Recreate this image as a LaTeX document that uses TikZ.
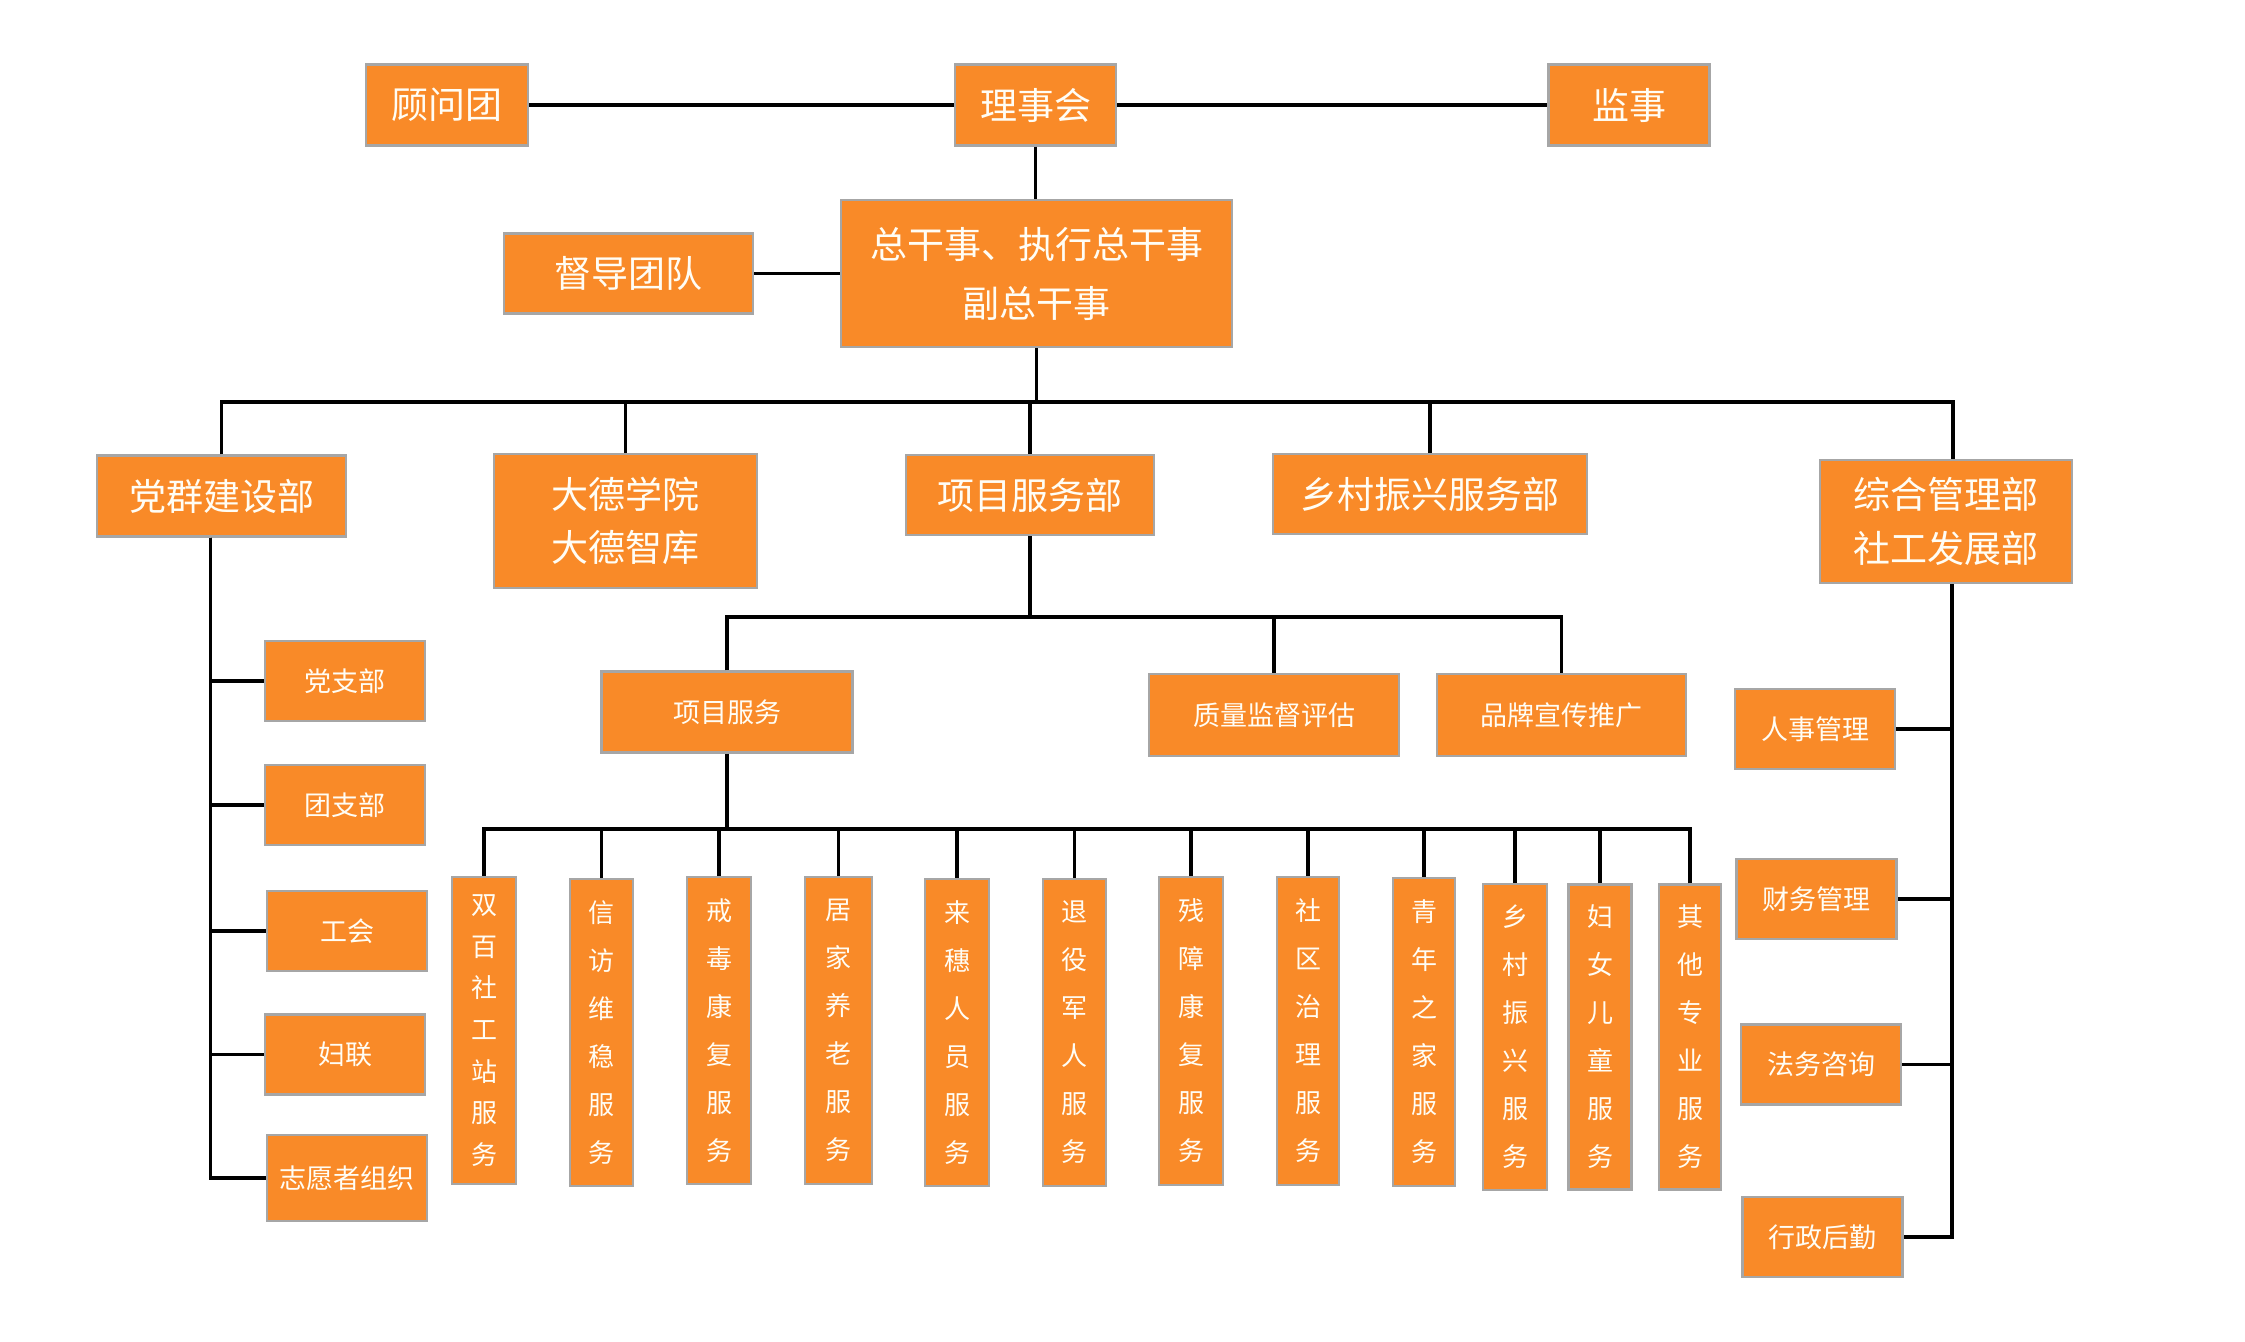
\documentclass[tikz,border=0pt]{standalone}
\usepackage{fontspec}
\newfontfamily\cjk{Noto Sans CJK SC}
\definecolor{boxorange}{HTML}{F98A28}
\definecolor{boxborder}{HTML}{A6A6A6}
\definecolor{txtwhite}{HTML}{FFFDF5}
\begin{document}
\begin{tikzpicture}[x=0.5pt,y=-0.5pt,
  box/.style={draw=boxborder, line width=1.2pt, fill=boxorange, text=txtwhite, inner sep=0pt, align=center, font=\cjk\fontsize{18.5}{22}\selectfont},
  bigtwo/.style={box, font=\cjk\fontsize{18.5}{29.5}\selectfont},
  midtwo/.style={box, font=\cjk\fontsize{18.5}{26.8}\selectfont},
  sbox/.style={box, font=\cjk\fontsize{13.5}{16}\selectfont},
  vsev/.style={box, font=\cjk\fontsize{13}{20.8}\selectfont},
  vsix/.style={box, font=\cjk\fontsize{13}{24}\selectfont},
  conn/.style={line width=1.7pt, black}]
\useasboundingbox[fill=white] (0,0) rectangle (2245,1342);

% top level
\node[box, minimum width=81pt, minimum height=40.5pt] (gw) at (447,105) {顾问团};
\node[box, minimum width=80.5pt, minimum height=40.5pt] (lsh) at (1035.5,105) {理事会};
\node[box, minimum width=80.5pt, minimum height=40.5pt] (js) at (1629,105) {监事};
\node[bigtwo, minimum width=195.5pt, minimum height=73.5pt] (zgs) at (1036.5,273.5) {总干事、执行总干事\\副总干事};
\node[box, minimum width=124.5pt, minimum height=40pt] (dd) at (628.5,273.5) {督导团队};

% departments
\node[box, minimum width=124.5pt, minimum height=40.5pt] (dq) at (221.5,496) {党群建设部};
\node[midtwo, minimum width=131.5pt, minimum height=67pt] (dx) at (625.5,521) {大德学院\\大德智库};
\node[box, minimum width=124pt, minimum height=40pt] (xm) at (1030,495) {项目服务部};
\node[box, minimum width=157pt, minimum height=40pt] (xc) at (1430,494) {乡村振兴服务部};
\node[midtwo, minimum width=126pt, minimum height=61.5pt] (zh) at (1946,521.5) {综合管理部\\社工发展部};

% party column
\node[sbox, minimum width=80pt, minimum height=40pt] (dzb) at (345,681) {党支部};
\node[sbox, minimum width=80pt, minimum height=40pt] (tzb) at (345,805) {团支部};
\node[sbox, minimum width=80pt, minimum height=40pt] (gh) at (347,931) {工会};
\node[sbox, minimum width=80pt, minimum height=40pt] (fl) at (345,1054.5) {妇联};
\node[sbox, minimum width=80pt, minimum height=43pt] (zy) at (347,1178) {志愿者组织};

% management column
\node[sbox, minimum width=80pt, minimum height=40pt] (rs) at (1815,729) {人事管理};
\node[sbox, minimum width=80pt, minimum height=40pt] (cw) at (1816.5,899) {财务管理};
\node[sbox, minimum width=80pt, minimum height=40pt] (fw) at (1821,1064.5) {法务咨询};
\node[sbox, minimum width=80pt, minimum height=40pt] (xz) at (1822.5,1237) {行政后勤};

% project level 2
\node[sbox, minimum width=125.5pt, minimum height=40.5pt] (xmfw) at (727,712) {项目服务};
\node[sbox, minimum width=125pt, minimum height=41pt] (zl) at (1274,715) {质量监督评估};
\node[sbox, minimum width=124.5pt, minimum height=41pt] (pp) at (1561.5,715) {品牌宣传推广};

% vertical service boxes
\node[vsev, minimum width=32pt, minimum height=153.5pt] (v1) at (484,1030.5) {双\\百\\社\\工\\站\\服\\务};
\node[vsix, minimum width=31.5pt, minimum height=153.5pt] (v2) at (601.5,1032.5) {信\\访\\维\\稳\\服\\务};
\node[vsix, minimum width=32pt, minimum height=153.5pt] (v3) at (719,1030.5) {戒\\毒\\康\\复\\服\\务};
\node[vsix, minimum width=33.5pt, minimum height=153.5pt] (v4) at (838.5,1030.5) {居\\家\\养\\老\\服\\务};
\node[vsix, minimum width=32pt, minimum height=153.5pt] (v5) at (957,1032.5) {来\\穗\\人\\员\\服\\务};
\node[vsix, minimum width=31.5pt, minimum height=153.5pt] (v6) at (1074.5,1032.5) {退\\役\\军\\人\\服\\务};
\node[vsix, minimum width=32pt, minimum height=154pt] (v7) at (1191,1031) {残\\障\\康\\复\\服\\务};
\node[vsix, minimum width=31pt, minimum height=154pt] (v8) at (1308,1031) {社\\区\\治\\理\\服\\务};
\node[vsix, minimum width=31pt, minimum height=154pt] (v9) at (1424,1032) {青\\年\\之\\家\\服\\务};
\node[vsix, minimum width=32pt, minimum height=153pt] (v10) at (1515,1037) {乡\\村\\振\\兴\\服\\务};
\node[vsix, minimum width=31.5pt, minimum height=152.5pt] (v11) at (1600,1037) {妇\\女\\儿\\童\\服\\务};
\node[vsix, minimum width=31pt, minimum height=152.5pt] (v12) at (1690,1037) {其\\他\\专\\业\\服\\务};

% connectors: top
\draw[conn] (gw.east) -- (lsh.west);
\draw[conn] (lsh.east) -- (js.west);
\draw[conn] (lsh.south) -- (lsh.south |- zgs.north);
\draw[conn] (dd.east) -- (dd.east -| zgs.west);

\coordinate (bus1) at (1036,402);
\draw[conn] (zgs.south) -- (zgs.south |- bus1);
\foreach \n in {dq,dx,xm,xc} \draw[conn] (\n.north) |- (bus1);
\draw[conn] ([xshift=3.5pt]zh.north) |- (bus1);

% party column
\foreach \n in {dzb,tzb,gh,fl,zy} \draw[conn] ([xshift=-5.5pt]dq.south) |- (\n.west);

% management column
\foreach \n in {rs,cw,fw,xz} \draw[conn] ([xshift=3pt]zh.south) |- (\n.east);

% project department
\coordinate (bus2) at (1030,617);
\draw[conn] (xm.south) -- (bus2);
\foreach \n in {xmfw,zl,pp} \draw[conn] (\n.north) |- (bus2);

\coordinate (bus3) at (727,829);
\draw[conn] (xmfw.south) -- (bus3);
\foreach \n in {v1,v2,v3,v4,v5,v6,v7,v8,v9,v10,v11,v12} \draw[conn] (\n.north) |- (bus3);
\end{tikzpicture}
\end{document}
